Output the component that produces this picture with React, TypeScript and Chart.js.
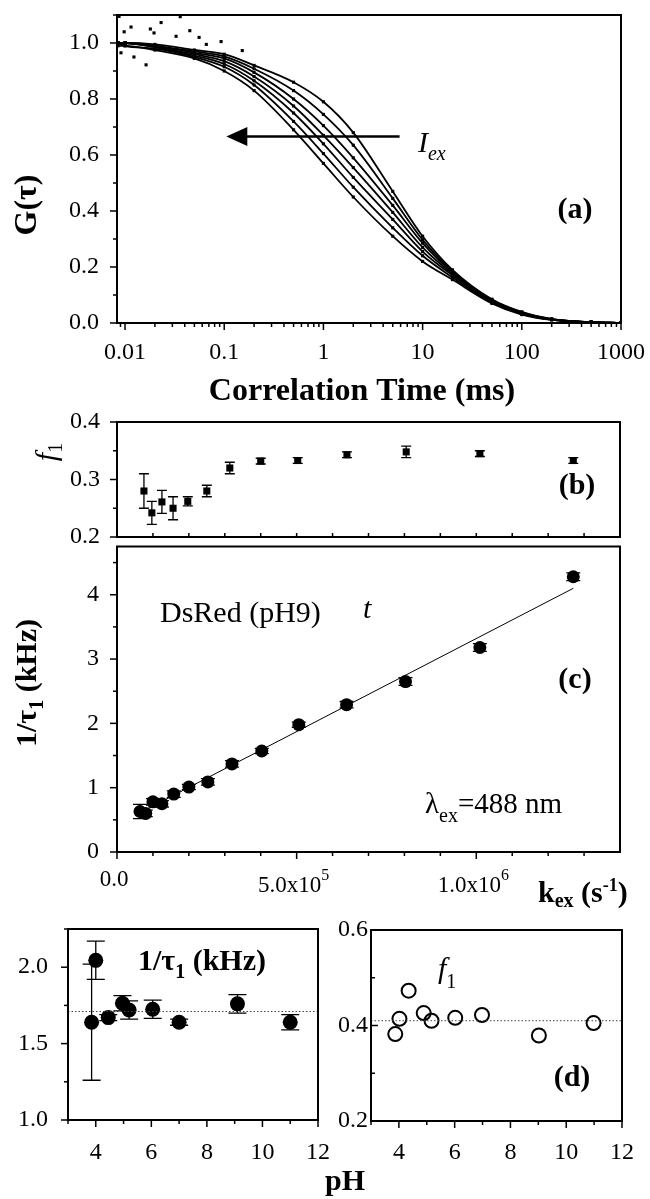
import React, { useEffect, useRef } from 'react';
import { Chart, registerables } from 'chart.js';
Chart.register(...registerables);

const SERIF = '"Liberation Serif", "Times New Roman", Times, serif';
const fnt = (style: string, size: number) => `${style} ${size}px ${SERIF}`;
const tickFont = { family: SERIF, size: 24 };

// ---------- Panel (a): correlation curves ----------
const tauGrid = [0.0085, 0.01, 0.02, 0.05, 0.1, 0.2, 0.5, 1, 2, 5, 10, 20, 50, 100, 200, 500, 1000];
const g1 = [0.99, 0.99, 0.975, 0.945, 0.90, 0.83, 0.69, 0.57, 0.45, 0.31, 0.22, 0.155, 0.07, 0.03, 0.011, 0.003, 0.0];
const g2 = [1.0, 0.99, 0.98, 0.95, 0.915, 0.85, 0.72, 0.605, 0.485, 0.34, 0.24, 0.163, 0.073, 0.032, 0.012, 0.003, 0.0];
const g3 = [1.0, 1.0, 0.985, 0.955, 0.925, 0.865, 0.75, 0.64, 0.52, 0.37, 0.255, 0.17, 0.076, 0.034, 0.012, 0.003, 0.0];
const g4 = [1.0, 1.0, 0.985, 0.96, 0.935, 0.88, 0.775, 0.67, 0.555, 0.395, 0.27, 0.175, 0.078, 0.035, 0.013, 0.003, 0.0];
const g5 = [1.0, 1.0, 0.99, 0.965, 0.945, 0.895, 0.80, 0.705, 0.59, 0.42, 0.285, 0.18, 0.08, 0.036, 0.013, 0.003, 0.0];
const g6 = [1.0, 1.0, 0.99, 0.97, 0.952, 0.908, 0.83, 0.745, 0.635, 0.445, 0.297, 0.185, 0.082, 0.038, 0.014, 0.003, 0.0];
const g7 = [1.0, 1.0, 0.995, 0.975, 0.96, 0.92, 0.86, 0.79, 0.68, 0.47, 0.31, 0.19, 0.085, 0.04, 0.015, 0.003, 0.0];
const gCurves = [g1, g2, g3, g4, g5, g6, g7];
const noiseTau = [0.0087, 0.0231, 0.036, 0.045, 0.0098, 0.0196, 0.0163, 0.0123, 0.0327, 0.0558, 0.093, 0.152, 0.0091, 0.0115, 0.018, 0.066];
const noiseG = [1.095, 1.073, 1.094, 1.044, 1.04, 1.036, 0.922, 0.95, 1.024, 1.02, 1.005, 0.973, 0.965, 1.057, 1.05, 0.995];
const aXTicks = [0.01, 0.1, 1, 10, 100, 1000];
const aYTicks = [0, 0.2, 0.4, 0.6, 0.8, 1.0];
const aYMinor = [0.1, 0.3, 0.5, 0.7, 0.9, 1.1];
const arrowTail = [5.86, 0.666];
const arrowTip = [0.105, 0.666];

// ---------- Panel (b): f1 vs k_ex ----------
const bKex = [0.75e5, 0.97e5, 1.25e5, 1.56e5, 1.97e5, 2.5e5, 3.14e5, 4.0e5, 5.03e5, 6.4e5, 8.05e5, 1.01e6, 1.27e6];
const bF1 = [0.28, 0.242, 0.261, 0.25, 0.262, 0.28, 0.32, 0.332, 0.333, 0.343, 0.348, 0.345, 0.333];
const bErr = [0.03, 0.02, 0.02, 0.02, 0.008, 0.01, 0.01, 0.005, 0.005, 0.005, 0.01, 0.005, 0.005];
const bYTicks = [0.2, 0.3, 0.4];
const bYMinor = [0.25, 0.35];

// ---------- Panel (c): 1/tau1 vs k_ex ----------
const cKex = [0.64e5, 0.8e5, 1.0e5, 1.25e5, 1.58e5, 2.0e5, 2.53e5, 3.2e5, 4.03e5, 5.06e5, 6.39e5, 8.03e5, 1.01e6, 1.27e6];
const cRate = [0.63, 0.6, 0.78, 0.75, 0.9, 1.01, 1.09, 1.37, 1.57, 1.98, 2.29, 2.65, 3.18, 4.28];
const cErr = [0.11, 0.05, 0.05, 0.05, 0.05, 0.04, 0.05, 0.05, 0.04, 0.04, 0.05, 0.06, 0.06, 0.06];
const cFitK = [0.5e5, 1.27e6];
const cFitRate = [0.57, 4.1];
const kMajor = [0, 5e5, 1e6];
const kMajorLabels = [['0.0', ''], ['5.0x10', '5'], ['1.0x10', '6']];
const kMinor = [1e5, 2e5, 3e5, 4e5, 6e5, 7e5, 8e5, 9e5, 1.1e6, 1.2e6, 1.3e6];
const cYTicks = [0, 1, 2, 3, 4];
const cYMinor = [0.5, 1.5, 2.5, 3.5, 4.5];

// ---------- Panel (d): pH dependence ----------
const dPHrate = [3.85, 4.0, 4.45, 4.96, 5.2, 6.05, 7.0, 9.1, 11.0];
const dRate = [1.64, 2.045, 1.67, 1.764, 1.72, 1.725, 1.64, 1.76, 1.64];
const dRateErr = [0.38, 0.125, 0.02, 0.05, 0.06, 0.06, 0.02, 0.06, 0.05];
const dRateMean = 1.71;
const dPHf1 = [3.87, 4.02, 4.35, 4.89, 5.17, 6.02, 6.98, 9.02, 10.98];
const dF1 = [0.382, 0.414, 0.473, 0.426, 0.41, 0.416, 0.422, 0.379, 0.405];
const dF1Mean = 0.41;
const pHTicks = [4, 6, 8, 10, 12];
const pHMinor = [3, 5, 7, 9, 11];
const dLYTicks = [1.0, 1.5, 2.0];
const dLYMinor = [1.25, 1.75, 2.25];
const dRYTicks = [0.2, 0.4, 0.6];
const dRYMinor = [0.3, 0.5];

// ---------- helpers ----------
type Run = { t: string; font: string; dy?: number };
type TextItem = { runs: Run[]; x: number; y: number; align?: 'left' | 'center' | 'right'; rotate?: boolean };

function drawRuns(ctx: CanvasRenderingContext2D, it: TextItem, x: number, y: number) {
  ctx.save();
  ctx.translate(x, y);
  if (it.rotate) ctx.rotate(-Math.PI / 2);
  ctx.textBaseline = 'alphabetic';
  ctx.textAlign = 'left';
  ctx.fillStyle = '#000';
  const widths = it.runs.map((r) => {
    ctx.font = r.font;
    return ctx.measureText(r.t).width;
  });
  const total = widths.reduce((a, b) => a + b, 0);
  const align = it.align || 'left';
  let cx = align === 'left' ? 0 : align === 'center' ? -total / 2 : -total;
  it.runs.forEach((r, i) => {
    ctx.font = r.font;
    ctx.fillText(r.t, cx, r.dy || 0);
    cx += widths[i];
  });
  ctx.restore();
}

type TickSpec = { major: number[]; minor: number[]; dir: number };
function tickPlugin(x: TickSpec | null, y: TickSpec | null) {
  return {
    id: 'tickMarks',
    afterDraw(chart: any) {
      const ctx = chart.ctx as CanvasRenderingContext2D;
      const a = chart.chartArea;
      ctx.save();
      ctx.strokeStyle = '#000';
      ctx.lineWidth = 1.5;
      const draw = (axis: 'x' | 'y', vals: number[], len: number, dir: number) => {
        const sc = chart.scales[axis];
        vals.forEach((v) => {
          const p = sc.getPixelForValue(v);
          ctx.beginPath();
          if (axis === 'x') {
            ctx.moveTo(p, a.bottom);
            ctx.lineTo(p, a.bottom + dir * len);
          } else {
            ctx.moveTo(a.left, p);
            ctx.lineTo(a.left - dir * len, p);
          }
          ctx.stroke();
        });
      };
      if (x) {
        draw('x', x.major, 7, x.dir);
        draw('x', x.minor, 4, x.dir);
      }
      if (y) {
        draw('y', y.major, 7, y.dir);
        draw('y', y.minor, 4, y.dir);
      }
      ctx.lineWidth = 2;
      ctx.strokeRect(a.left, a.top, a.right - a.left, a.bottom - a.top);
      ctx.restore();
    },
  };
}

const errorBarPlugin = {
  id: 'errBars',
  beforeDatasetsDraw(chart: any) {
    const ctx = chart.ctx as CanvasRenderingContext2D;
    const xs = chart.scales.x;
    const ys = chart.scales.y;
    chart.data.datasets.forEach((ds: any) => {
      if (!ds.errors) return;
      ctx.save();
      ctx.strokeStyle = '#000';
      ctx.lineWidth = 1.3;
      ds.data.forEach((pt: any, j: number) => {
        const e = ds.errors[j];
        if (!e) return;
        const px = xs.getPixelForValue(pt.x);
        const y1 = ys.getPixelForValue(pt.y - e);
        const y2 = ys.getPixelForValue(pt.y + e);
        const hw = ds.capWidth / 2;
        ctx.beginPath();
        ctx.moveTo(px, y1);
        ctx.lineTo(px, y2);
        ctx.moveTo(px - hw, y1);
        ctx.lineTo(px + hw, y1);
        ctx.moveTo(px - hw, y2);
        ctx.lineTo(px + hw, y2);
        ctx.stroke();
      });
      ctx.restore();
    });
  },
};

function textPlugin(items: TextItem[], ox: number, oy: number, extra?: (chart: any) => void) {
  return {
    id: 'texts',
    afterDraw(chart: any) {
      const ctx = chart.ctx as CanvasRenderingContext2D;
      items.forEach((it) => drawRuns(ctx, it, it.x - ox, it.y - oy));
      if (extra) extra(chart);
    },
  };
}

function axis(o: {
  type?: string; min: number; max: number; ticks?: number[]; fmt?: (v: number) => string;
  padding?: number; size: number; horizontal: boolean;
}) {
  return {
    type: o.type || 'linear',
    min: o.min,
    max: o.max,
    grid: { display: false, drawTicks: false },
    border: { display: false },
    ticks: {
      display: !!o.ticks,
      font: tickFont,
      color: '#000',
      padding: o.padding || 0,
      autoSkip: false,
      maxRotation: 0,
      minRotation: 0,
      callback: (v: any) => (o.fmt ? o.fmt(Number(v)) : String(v)),
    },
    afterBuildTicks: (s: any) => {
      if (o.ticks) s.ticks = o.ticks.map((v) => ({ value: v }));
    },
    afterFit: (s: any) => {
      if (o.horizontal) s.height = o.size;
      else s.width = o.size;
      s.paddingTop = 0;
      s.paddingBottom = 0;
      s.paddingLeft = 0;
      s.paddingRight = 0;
    },
  };
}

function baseOptions(padding: any, scales: any) {
  return {
    responsive: false,
    animation: false as const,
    devicePixelRatio: 1,
    events: [] as any[],
    layout: { padding },
    plugins: { legend: { display: false }, tooltip: { enabled: false } },
    scales,
  };
}

const pts = (xs: number[], ys: number[]) => xs.map((x, i) => ({ x, y: ys[i] }));

// ---------- chart builders ----------
function makeA(cv: HTMLCanvasElement) {
  const ox = 0, oy = 0;
  const lineSets = gCurves.map((g) => ({
    data: pts(tauGrid, g),
    showLine: true,
    borderColor: '#000',
    borderWidth: 1.8,
    pointRadius: 2.2,
    pointStyle: 'rect',
    pointBackgroundColor: '#000',
    pointBorderWidth: 0,
    cubicInterpolationMode: 'monotone',
    fill: false,
  }));
  const noise = {
    data: pts(noiseTau, noiseG),
    showLine: false,
    pointRadius: 2.2,
    pointStyle: 'rect',
    pointBackgroundColor: '#000',
    pointBorderWidth: 0,
  };
  const aXMinor: number[] = [0.009];
  for (let d = -2; d <= 2; d++) for (let m = 2; m <= 9; m++) aXMinor.push(m * Math.pow(10, d));
  const texts: TextItem[] = [
    { runs: [{ t: 'G(τ)', font: fnt('bold', 32) }], x: 36, y: 205, align: 'center', rotate: true },
    { runs: [{ t: 'Correlation Time (ms)', font: fnt('bold', 32) }], x: 362, y: 400, align: 'center' },
    { runs: [{ t: '(a)', font: fnt('bold', 30) }], x: 575, y: 218, align: 'center' },
    { runs: [{ t: 'I', font: fnt('italic', 30) }, { t: 'ex', font: fnt('italic', 20), dy: 8 }], x: 418, y: 152 },
  ];
  return new Chart(cv, {
    type: 'scatter',
    data: { datasets: [...lineSets, noise] as any },
    options: baseOptions({ top: 15, right: 29, left: 0, bottom: 0 }, {
      x: axis({ type: 'logarithmic', min: 0.0083, max: 1000, ticks: aXTicks, fmt: (v) => String(v), padding: 15, size: 87, horizontal: true }),
      y: axis({ min: 0, max: 1.1, ticks: aYTicks, fmt: (v) => v.toFixed(1), padding: 18, size: 117, horizontal: false }),
    }) as any,
    plugins: [
      tickPlugin({ major: aXTicks, minor: aXMinor, dir: 1 }, { major: aYTicks, minor: aYMinor, dir: 1 }),
      textPlugin(texts, ox, oy, (chart) => {
        const ctx = chart.ctx as CanvasRenderingContext2D;
        const xs = chart.scales.x, ys = chart.scales.y;
        const x1 = xs.getPixelForValue(arrowTail[0]);
        const x0 = xs.getPixelForValue(arrowTip[0]);
        const yy = ys.getPixelForValue(arrowTip[1]);
        ctx.save();
        ctx.strokeStyle = '#000';
        ctx.fillStyle = '#000';
        ctx.lineWidth = 2.5;
        ctx.beginPath();
        ctx.moveTo(x0 + 18, yy);
        ctx.lineTo(x1, yy);
        ctx.stroke();
        ctx.beginPath();
        ctx.moveTo(x0, yy);
        ctx.lineTo(x0 + 21, yy - 9.5);
        ctx.lineTo(x0 + 21, yy + 9.5);
        ctx.closePath();
        ctx.fill();
        ctx.restore();
      }),
    ],
  });
}

function makeB(cv: HTMLCanvasElement) {
  const ox = 0, oy = 400;
  const texts: TextItem[] = [
    { runs: [{ t: 'f', font: fnt('italic', 30) }, { t: '1', font: fnt('', 20), dy: 6 }], x: 56, y: 452, align: 'center', rotate: true },
    { runs: [{ t: '(b)', font: fnt('bold', 30) }], x: 577, y: 494, align: 'center' },
  ];
  return new Chart(cv, {
    type: 'scatter',
    data: {
      datasets: [{
        data: pts(bKex, bF1),
        errors: bErr,
        capWidth: 10,
        pointStyle: 'rect',
        pointRadius: 5,
        pointBackgroundColor: '#000',
        pointBorderWidth: 0,
      }] as any,
    },
    options: baseOptions({ top: 22, right: 30, left: 0, bottom: 0 }, {
      x: axis({ min: 0, max: 1.4e6, size: 15, horizontal: true }),
      y: axis({ min: 0.2, max: 0.4, ticks: bYTicks, fmt: (v) => v.toFixed(1), padding: 17, size: 117, horizontal: false }),
    }) as any,
    plugins: [
      errorBarPlugin,
      tickPlugin({ major: [], minor: kMinor.concat([5e5, 1e6]), dir: -1 }, { major: bYTicks, minor: bYMinor, dir: 1 }),
      textPlugin(texts, ox, oy),
    ],
  });
}

function makeC(cv: HTMLCanvasElement) {
  const ox = 0, oy = 540;
  const texts: TextItem[] = [
    {
      runs: [{ t: '1/τ', font: fnt('bold', 30) }, { t: '1', font: fnt('bold', 20), dy: 7 }, { t: ' (kHz)', font: fnt('bold', 30) }],
      x: 36, y: 683, align: 'center', rotate: true,
    },
    { runs: [{ t: 'DsRed (pH9)', font: fnt('', 30) }], x: 160, y: 622 },
    { runs: [{ t: 't', font: fnt('italic', 30) }], x: 363, y: 618 },
    { runs: [{ t: '(c)', font: fnt('bold', 30) }], x: 575, y: 688, align: 'center' },
    {
      runs: [{ t: 'λ', font: fnt('', 29) }, { t: 'ex', font: fnt('', 20), dy: 9 }, { t: '=488 nm', font: fnt('', 29) }],
      x: 425, y: 813,
    },
    {
      runs: [
        { t: 'k', font: fnt('bold', 30) }, { t: 'ex', font: fnt('bold', 20), dy: 5 },
        { t: ' (s', font: fnt('bold', 30) }, { t: '-1', font: fnt('bold', 18), dy: -11 }, { t: ')', font: fnt('bold', 30) },
      ],
      x: 538, y: 902,
    },
  ];
  return new Chart(cv, {
    type: 'scatter',
    data: {
      datasets: [
        {
          data: pts(cFitK, cFitRate),
          showLine: true,
          borderColor: '#000',
          borderWidth: 1,
          pointRadius: 0,
          fill: false,
        },
        {
          data: pts(cKex, cRate),
          errors: cErr,
          capWidth: 14,
          pointStyle: 'circle',
          pointRadius: 6.5,
          pointBackgroundColor: '#000',
          pointBorderWidth: 0,
        },
      ] as any,
    },
    options: baseOptions({ top: 4, right: 30, left: 0, bottom: 0 }, {
      x: axis({ min: 0, max: 1.4e6, size: 58, horizontal: true }),
      y: axis({ min: 0, max: 4.75, ticks: cYTicks, fmt: (v) => String(v), padding: 18, size: 117, horizontal: false }),
    }) as any,
    plugins: [
      errorBarPlugin,
      tickPlugin({ major: kMajor, minor: kMinor, dir: 1 }, { major: cYTicks, minor: cYMinor, dir: 1 }),
      textPlugin(texts, ox, oy, (chart) => {
        const ctx = chart.ctx as CanvasRenderingContext2D;
        const xs = chart.scales.x;
        kMajor.forEach((v, i) => {
          const [base, sup] = kMajorLabels[i];
          const px = xs.getPixelForValue(v) - 3;
          const runs: Run[] = [{ t: base, font: fnt('', 23) }];
          if (sup) runs.push({ t: sup, font: fnt('', 16), dy: -12 });
          drawRuns(ctx, { runs, x: 0, y: 0, align: 'center' }, px, (sup ? 892 : 886) - oy);
        });
      }),
    ],
  });
}

function makeDL(cv: HTMLCanvasElement) {
  const ox = 0, oy = 900;
  const texts: TextItem[] = [
    {
      runs: [{ t: '1/τ', font: fnt('bold', 30) }, { t: '1', font: fnt('bold', 20), dy: 8 }, { t: ' (kHz)', font: fnt('bold', 30) }],
      x: 138, y: 970,
    },
  ];
  return new Chart(cv, {
    type: 'scatter',
    data: {
      datasets: [
        {
          data: pts([3, 12], [dRateMean, dRateMean]),
          showLine: true,
          borderColor: '#444',
          borderWidth: 1,
          borderDash: [1.5, 2],
          pointRadius: 0,
          fill: false,
        },
        {
          data: pts(dPHrate, dRate),
          errors: dRateErr,
          capWidth: 18,
          pointStyle: 'circle',
          pointRadius: 7.5,
          pointBackgroundColor: '#000',
          pointBorderWidth: 0,
        },
      ] as any,
    },
    options: baseOptions({ top: 29, right: 27, left: 0, bottom: 0 }, {
      x: axis({ min: 3, max: 12, ticks: pHTicks, fmt: (v) => String(v), padding: 18, size: 45, horizontal: true }),
      y: axis({ min: 1.0, max: 2.25, ticks: dLYTicks, fmt: (v) => v.toFixed(1), padding: 20, size: 68, horizontal: false }),
    }) as any,
    plugins: [
      errorBarPlugin,
      tickPlugin({ major: pHTicks, minor: pHMinor, dir: 1 }, { major: dLYTicks, minor: dLYMinor, dir: 1 }),
      textPlugin(texts, ox, oy),
    ],
  });
}

function makeDR(cv: HTMLCanvasElement) {
  const ox = 320, oy = 900;
  const texts: TextItem[] = [
    { runs: [{ t: 'f', font: fnt('italic', 30) }, { t: '1', font: fnt('', 20), dy: 10 }], x: 438, y: 978 },
    { runs: [{ t: '(d)', font: fnt('bold', 30) }], x: 572, y: 1086, align: 'center' },
    { runs: [{ t: 'pH', font: fnt('bold', 30) }], x: 345, y: 1190, align: 'center' },
  ];
  return new Chart(cv, {
    type: 'scatter',
    data: {
      datasets: [
        {
          data: pts([3, 12], [dF1Mean, dF1Mean]),
          showLine: true,
          borderColor: '#444',
          borderWidth: 1,
          borderDash: [1.5, 2],
          pointRadius: 0,
          fill: false,
        },
        {
          data: pts(dPHf1, dF1),
          pointStyle: 'circle',
          pointRadius: 7,
          pointBackgroundColor: 'rgba(0,0,0,0)',
          pointBorderColor: '#000',
          pointBorderWidth: 2,
        },
      ] as any,
    },
    options: baseOptions({ top: 30, right: 28, left: 0, bottom: 0 }, {
      x: axis({ min: 3, max: 12, ticks: pHTicks, fmt: (v) => String(v), padding: 17, size: 78, horizontal: true }),
      y: axis({ min: 0.2, max: 0.6, ticks: dRYTicks, fmt: (v) => v.toFixed(1), padding: 3, size: 51, horizontal: false }),
    }) as any,
    plugins: [
      tickPlugin({ major: pHTicks, minor: pHMinor, dir: 1 }, { major: dRYTicks, minor: dRYMinor, dir: -1 }),
      textPlugin(texts, ox, oy),
    ],
  });
}

function Panel(props: { left: number; top: number; width: number; height: number; make: (c: HTMLCanvasElement) => Chart }) {
  const ref = useRef<HTMLCanvasElement>(null);
  useEffect(() => {
    const chart = props.make(ref.current as HTMLCanvasElement);
    return () => chart.destroy();
  }, []);
  return (
    <canvas
      ref={ref}
      width={props.width}
      height={props.height}
      style={{ position: 'absolute', left: props.left, top: props.top, width: props.width, height: props.height }}
    />
  );
}

export default function App() {
  return (
    <div style={{ position: 'absolute', left: 0, top: 0, width: 650, height: 1199, background: '#fff', overflow: 'hidden' }}>
      <Panel left={0} top={0} width={650} height={410} make={makeA} />
      <Panel left={0} top={400} width={650} height={152} make={makeB} />
      <Panel left={0} top={540} width={650} height={370} make={makeC} />
      <Panel left={0} top={900} width={345} height={265} make={makeDL} />
      <Panel left={320} top={900} width={330} height={299} make={makeDR} />
    </div>
  );
}
